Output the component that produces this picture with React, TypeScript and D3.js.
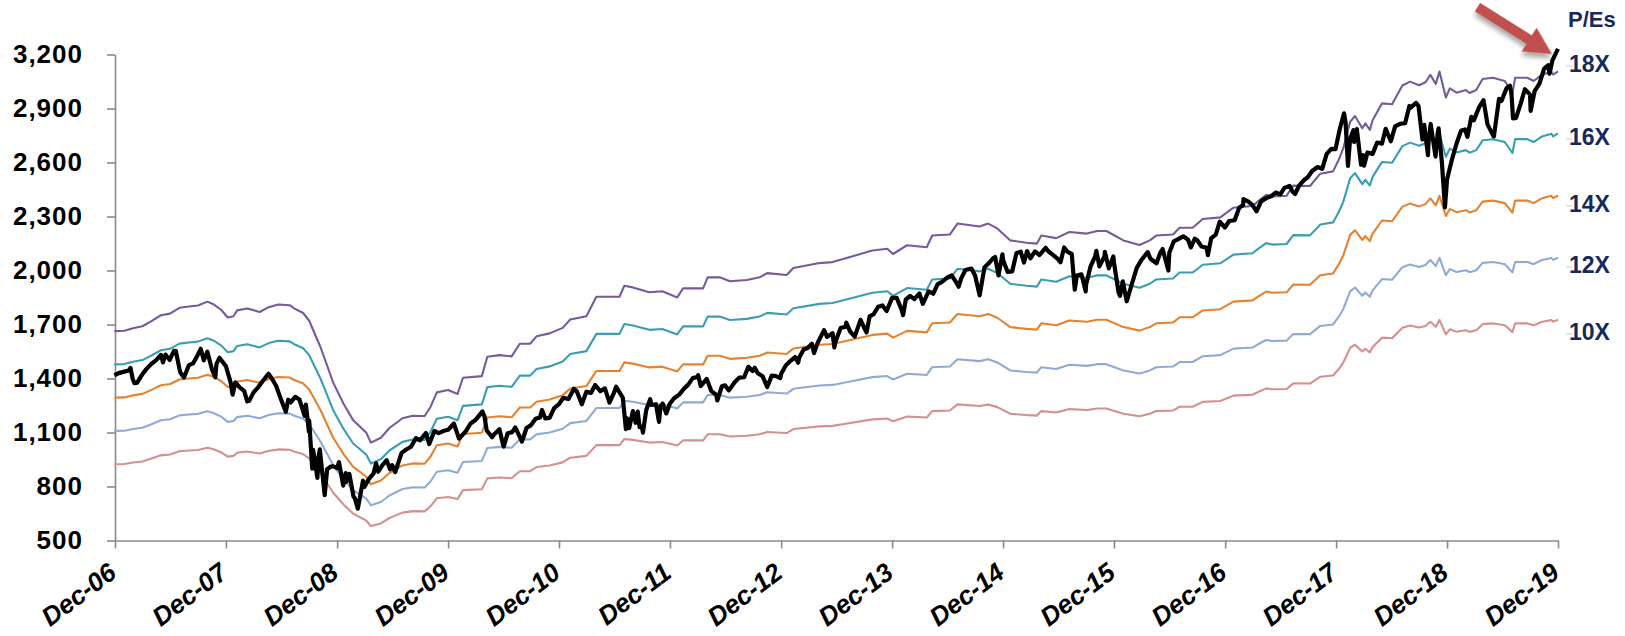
import React, { useEffect, useRef } from 'react';
import * as d3 from 'd3';

// S&P 500 level
const spx: [string, number][] = [
  ["2006-12-29", 1418], ["2007-01-12", 1430], ["2007-01-31", 1438], ["2007-02-14", 1444], ["2007-02-20", 1459],
  ["2007-02-27", 1399], ["2007-03-05", 1374], ["2007-03-14", 1377], ["2007-03-30", 1421], ["2007-04-13", 1452],
  ["2007-04-30", 1482], ["2007-05-15", 1501], ["2007-05-31", 1531], ["2007-06-07", 1490], ["2007-06-15", 1533],
  ["2007-06-29", 1503], ["2007-07-13", 1553], ["2007-07-19", 1553], ["2007-07-31", 1455], ["2007-08-03", 1433],
  ["2007-08-15", 1406], ["2007-08-31", 1474], ["2007-09-14", 1484], ["2007-09-28", 1527], ["2007-10-09", 1565],
  ["2007-10-19", 1501], ["2007-10-31", 1549], ["2007-11-15", 1451], ["2007-11-26", 1407], ["2007-11-30", 1481],
  ["2007-12-10", 1515], ["2007-12-31", 1468], ["2008-01-15", 1381], ["2008-01-22", 1310], ["2008-01-31", 1379],
  ["2008-02-15", 1349], ["2008-02-29", 1331], ["2008-03-10", 1273], ["2008-03-17", 1277], ["2008-03-31", 1323],
  ["2008-04-15", 1351], ["2008-04-30", 1386], ["2008-05-19", 1426], ["2008-05-30", 1400], ["2008-06-13", 1360],
  ["2008-06-30", 1280], ["2008-07-15", 1215], ["2008-07-23", 1282], ["2008-07-31", 1267], ["2008-08-15", 1298],
  ["2008-08-29", 1283], ["2008-09-15", 1193], ["2008-09-19", 1255], ["2008-09-29", 1106], ["2008-09-30", 1166],
  ["2008-10-10", 899], ["2008-10-13", 1003], ["2008-10-27", 848], ["2008-10-31", 969], ["2008-11-04", 1006],
  ["2008-11-20", 752], ["2008-11-28", 896], ["2008-12-08", 909], ["2008-12-16", 913], ["2008-12-31", 903],
  ["2009-01-06", 935], ["2009-01-20", 805], ["2009-01-28", 874], ["2009-01-30", 826], ["2009-02-09", 870],
  ["2009-02-23", 743], ["2009-02-27", 735], ["2009-03-09", 677], ["2009-03-26", 832], ["2009-03-31", 798],
  ["2009-04-14", 841], ["2009-04-30", 873], ["2009-05-08", 929], ["2009-05-15", 882], ["2009-05-29", 919],
  ["2009-06-12", 946], ["2009-06-23", 895], ["2009-06-30", 919], ["2009-07-10", 880], ["2009-07-31", 987],
  ["2009-08-14", 1004], ["2009-08-31", 1021], ["2009-09-16", 1068], ["2009-09-30", 1057], ["2009-10-19", 1097],
  ["2009-10-30", 1036], ["2009-11-16", 1109], ["2009-11-30", 1096], ["2009-12-15", 1108], ["2009-12-31", 1115],
  ["2010-01-19", 1150], ["2010-02-05", 1066], ["2010-02-26", 1104], ["2010-03-15", 1150], ["2010-03-31", 1169],
  ["2010-04-23", 1217], ["2010-04-30", 1187], ["2010-05-07", 1111], ["2010-05-25", 1074], ["2010-05-31", 1089],
  ["2010-06-18", 1118], ["2010-06-30", 1031], ["2010-07-02", 1022], ["2010-07-15", 1096], ["2010-07-30", 1102],
  ["2010-08-09", 1128], ["2010-08-27", 1065], ["2010-08-31", 1049], ["2010-09-15", 1125], ["2010-09-30", 1141],
  ["2010-10-15", 1176], ["2010-10-29", 1183], ["2010-11-05", 1225], ["2010-11-16", 1178], ["2010-11-30", 1181],
  ["2010-12-15", 1236], ["2010-12-31", 1258], ["2011-01-14", 1293], ["2011-01-31", 1286], ["2011-02-18", 1343],
  ["2011-02-28", 1327], ["2011-03-16", 1257], ["2011-03-31", 1326], ["2011-04-15", 1320], ["2011-04-29", 1364],
  ["2011-05-16", 1329], ["2011-05-31", 1345], ["2011-06-15", 1266], ["2011-06-30", 1321], ["2011-07-07", 1354],
  ["2011-07-29", 1292], ["2011-08-08", 1119], ["2011-08-12", 1179], ["2011-08-19", 1124], ["2011-08-31", 1219],
  ["2011-09-09", 1154], ["2011-09-16", 1216], ["2011-09-22", 1130], ["2011-09-30", 1131], ["2011-10-03", 1099],
  ["2011-10-14", 1225], ["2011-10-27", 1285], ["2011-10-31", 1253], ["2011-11-15", 1257], ["2011-11-25", 1159],
  ["2011-11-30", 1247], ["2011-12-07", 1261], ["2011-12-19", 1206], ["2011-12-30", 1258], ["2012-01-13", 1289],
  ["2012-01-31", 1312], ["2012-02-15", 1343], ["2012-02-29", 1366], ["2012-03-15", 1402], ["2012-03-30", 1408],
  ["2012-04-02", 1419], ["2012-04-10", 1358], ["2012-04-30", 1398], ["2012-05-15", 1330], ["2012-05-31", 1310],
  ["2012-06-04", 1278], ["2012-06-19", 1357], ["2012-06-29", 1362], ["2012-07-12", 1334], ["2012-07-31", 1379],
  ["2012-08-15", 1405], ["2012-08-31", 1407], ["2012-09-14", 1465], ["2012-09-28", 1441], ["2012-10-05", 1460],
  ["2012-10-15", 1429], ["2012-10-31", 1412], ["2012-11-15", 1353], ["2012-11-30", 1416], ["2012-12-14", 1413],
  ["2012-12-28", 1402], ["2012-12-31", 1426], ["2013-01-15", 1472], ["2013-01-31", 1498], ["2013-02-15", 1519],
  ["2013-02-25", 1488], ["2013-02-28", 1515], ["2013-03-15", 1561], ["2013-03-28", 1569], ["2013-04-11", 1593],
  ["2013-04-18", 1541], ["2013-04-30", 1598], ["2013-05-21", 1669], ["2013-05-31", 1631], ["2013-06-18", 1652],
  ["2013-06-24", 1573], ["2013-06-28", 1606], ["2013-07-15", 1682], ["2013-07-31", 1686], ["2013-08-02", 1710],
  ["2013-08-15", 1661], ["2013-08-30", 1633], ["2013-09-18", 1726], ["2013-09-30", 1682], ["2013-10-08", 1656],
  ["2013-10-18", 1745], ["2013-10-31", 1757], ["2013-11-15", 1798], ["2013-11-29", 1806], ["2013-12-13", 1775],
  ["2013-12-31", 1848], ["2014-01-15", 1848], ["2014-01-31", 1783], ["2014-02-05", 1752], ["2014-02-14", 1838],
  ["2014-02-28", 1859], ["2014-03-14", 1841], ["2014-03-31", 1872], ["2014-04-11", 1815], ["2014-04-30", 1884],
  ["2014-05-15", 1871], ["2014-05-30", 1924], ["2014-06-13", 1937], ["2014-06-30", 1960], ["2014-07-15", 1973],
  ["2014-07-31", 1931], ["2014-08-07", 1910], ["2014-08-15", 1955], ["2014-08-29", 2003], ["2014-09-18", 2011],
  ["2014-09-30", 1972], ["2014-10-15", 1862], ["2014-10-31", 2018], ["2014-11-14", 2040], ["2014-11-28", 2068],
  ["2014-12-05", 2075], ["2014-12-16", 1973], ["2014-12-29", 2090], ["2014-12-31", 2059], ["2015-01-15", 1992],
  ["2015-01-30", 1995], ["2015-02-13", 2096], ["2015-02-27", 2105], ["2015-03-10", 2044], ["2015-03-20", 2108],
  ["2015-03-31", 2068], ["2015-04-15", 2106], ["2015-04-30", 2086], ["2015-05-20", 2126], ["2015-05-29", 2107],
  ["2015-06-15", 2084], ["2015-06-30", 2063], ["2015-07-08", 2046], ["2015-07-20", 2128], ["2015-07-31", 2104],
  ["2015-08-14", 2092], ["2015-08-24", 1893], ["2015-08-31", 1972], ["2015-09-15", 1979], ["2015-09-29", 1884],
  ["2015-09-30", 1920], ["2015-10-15", 2023], ["2015-10-30", 2079], ["2015-11-03", 2109], ["2015-11-13", 2023],
  ["2015-11-30", 2080], ["2015-12-01", 2103], ["2015-12-14", 2012], ["2015-12-29", 2078], ["2015-12-31", 2044],
  ["2016-01-15", 1880], ["2016-01-20", 1859], ["2016-01-29", 1940], ["2016-02-11", 1829], ["2016-02-29", 1932],
  ["2016-03-15", 2015], ["2016-03-31", 2060], ["2016-04-20", 2102], ["2016-04-29", 2065], ["2016-05-19", 2040],
  ["2016-05-31", 2097], ["2016-06-08", 2119], ["2016-06-27", 2000], ["2016-06-30", 2099], ["2016-07-15", 2162],
  ["2016-07-29", 2174], ["2016-08-15", 2190], ["2016-08-31", 2171], ["2016-09-09", 2128], ["2016-09-22", 2177],
  ["2016-09-30", 2168], ["2016-10-14", 2133], ["2016-10-31", 2126], ["2016-11-04", 2085], ["2016-11-15", 2180],
  ["2016-11-30", 2199], ["2016-12-13", 2271], ["2016-12-30", 2239], ["2017-01-13", 2275], ["2017-01-31", 2279],
  ["2017-02-15", 2349], ["2017-02-28", 2364], ["2017-03-01", 2396], ["2017-03-15", 2385], ["2017-03-31", 2363],
  ["2017-04-13", 2329], ["2017-04-28", 2384], ["2017-05-15", 2402], ["2017-05-31", 2412], ["2017-06-15", 2433],
  ["2017-06-30", 2423], ["2017-07-14", 2459], ["2017-07-31", 2470], ["2017-08-10", 2438], ["2017-08-18", 2425],
  ["2017-08-31", 2472], ["2017-09-15", 2500], ["2017-09-29", 2519], ["2017-10-13", 2553], ["2017-10-31", 2575],
  ["2017-11-15", 2565], ["2017-11-30", 2648], ["2017-12-15", 2676], ["2017-12-29", 2674], ["2018-01-12", 2786],
  ["2018-01-26", 2873], ["2018-01-31", 2824], ["2018-02-08", 2581], ["2018-02-15", 2731], ["2018-02-26", 2780],
  ["2018-02-28", 2714], ["2018-03-09", 2786], ["2018-03-23", 2588], ["2018-03-29", 2641], ["2018-04-02", 2582],
  ["2018-04-13", 2656], ["2018-04-30", 2648], ["2018-05-15", 2711], ["2018-05-31", 2705], ["2018-06-12", 2787],
  ["2018-06-29", 2718], ["2018-07-13", 2801], ["2018-07-31", 2816], ["2018-08-15", 2818], ["2018-08-29", 2914],
  ["2018-08-31", 2902], ["2018-09-20", 2931], ["2018-09-28", 2914], ["2018-10-11", 2728], ["2018-10-17", 2809],
  ["2018-10-29", 2641], ["2018-10-31", 2712], ["2018-11-07", 2814], ["2018-11-23", 2633], ["2018-11-30", 2760],
  ["2018-12-03", 2790], ["2018-12-14", 2600], ["2018-12-24", 2351], ["2018-12-31", 2507], ["2019-01-15", 2610],
  ["2019-01-31", 2704], ["2019-02-15", 2776], ["2019-02-28", 2784], ["2019-03-08", 2743], ["2019-03-21", 2854],
  ["2019-03-29", 2834], ["2019-04-15", 2906], ["2019-04-30", 2946], ["2019-05-13", 2812], ["2019-05-31", 2752],
  ["2019-06-03", 2744], ["2019-06-20", 2954], ["2019-06-28", 2942], ["2019-07-15", 3014], ["2019-07-26", 3026],
  ["2019-07-31", 2980], ["2019-08-05", 2845], ["2019-08-15", 2848], ["2019-08-30", 2926], ["2019-09-13", 3007],
  ["2019-09-30", 2977], ["2019-10-02", 2887], ["2019-10-15", 2996], ["2019-10-31", 3038], ["2019-11-15", 3120],
  ["2019-11-29", 3141], ["2019-12-03", 3093], ["2019-12-13", 3169], ["2019-12-31", 3231],
];

// forward EPS behind the bands (band value = EPS x multiple)
const eps: [string, number][] = [
  ["2006-12-29", 92.4], ["2007-01-31", 92.5], ["2007-02-28", 93.3], ["2007-03-31", 93.9], ["2007-04-30", 95.5],
  ["2007-05-31", 97.3], ["2007-06-30", 97.8], ["2007-07-31", 99.6], ["2007-08-31", 100.0], ["2007-09-30", 100.3],
  ["2007-10-31", 101.5], ["2007-11-18", 100.8], ["2007-12-15", 99.0], ["2008-01-06", 96.6], ["2008-01-25", 97.0],
  ["2008-02-06", 98.8], ["2008-03-10", 99.4], ["2008-04-20", 98.3], ["2008-05-20", 99.8], ["2008-06-20", 100.6],
  ["2008-07-28", 100.4], ["2008-08-10", 99.5], ["2008-09-10", 98.0], ["2008-09-30", 95.6], ["2008-11-06", 87.5],
  ["2008-12-18", 76.5], ["2009-01-21", 70.0], ["2009-02-21", 65.0], ["2009-04-06", 61.0], ["2009-04-21", 58.0],
  ["2009-05-24", 59.5], ["2009-06-21", 62.5], ["2009-08-03", 65.5], ["2009-09-06", 66.3], ["2009-10-15", 66.2],
  ["2009-11-03", 69.0], ["2009-11-24", 73.5], ["2009-12-31", 74.2], ["2010-01-31", 73.0], ["2010-02-18", 78.0],
  ["2010-04-21", 78.5], ["2010-05-09", 84.5], ["2010-06-18", 85.0], ["2010-07-28", 84.6], ["2010-08-24", 88.5],
  ["2010-09-27", 88.5], ["2010-10-18", 90.8], ["2010-11-30", 91.7], ["2011-01-12", 93.4], ["2011-02-06", 96.0],
  ["2011-03-31", 97.0], ["2011-05-03", 103.0], ["2011-07-18", 103.0], ["2011-08-03", 106.4], ["2011-08-31", 105.9],
  ["2011-10-24", 104.4], ["2011-12-06", 104.7], ["2012-01-24", 102.8], ["2012-02-12", 105.6], ["2012-04-18", 105.6],
  ["2012-05-03", 109.0], ["2012-06-12", 109.0], ["2012-07-15", 107.8], ["2012-09-09", 108.2], ["2012-10-21", 109.0],
  ["2012-11-15", 110.3], ["2013-01-18", 109.7], ["2013-02-09", 111.9], ["2013-05-06", 113.4], ["2013-06-18", 113.7],
  ["2013-08-15", 115.3], ["2013-10-27", 117.3], ["2013-12-15", 117.8], ["2014-01-03", 116.2], ["2014-02-18", 118.9],
  ["2014-04-24", 118.3], ["2014-05-12", 121.9], ["2014-07-09", 122.2], ["2014-08-03", 125.6], ["2014-10-15", 124.7],
  ["2014-11-12", 125.6], ["2014-12-12", 124.1], ["2015-01-24", 120.4], ["2015-03-18", 119.7], ["2015-04-21", 119.4],
  ["2015-05-06", 121.9], ["2015-06-24", 121.1], ["2015-08-06", 123.0], ["2015-10-03", 122.5], ["2015-11-06", 123.3],
  ["2015-12-06", 123.3], ["2016-01-31", 120.4], ["2016-03-24", 119.0], ["2016-04-27", 120.4], ["2016-05-18", 121.9],
  ["2016-07-12", 122.2], ["2016-08-03", 124.3], ["2016-09-15", 124.3], ["2016-10-18", 127.0], ["2016-12-15", 127.5],
  ["2017-01-27", 130.5], ["2017-03-31", 131.0], ["2017-04-18", 132.5], ["2017-05-15", 134.5], ["2017-06-03", 134.0],
  ["2017-07-21", 134.2], ["2017-08-12", 137.3], ["2017-10-06", 137.2], ["2017-11-09", 141.0], ["2017-12-21", 141.7],
  ["2018-01-12", 146.0], ["2018-01-24", 149.0], ["2018-02-15", 157.0], ["2018-03-03", 158.8], ["2018-03-27", 155.0],
  ["2018-04-06", 156.5], ["2018-04-21", 154.5], ["2018-04-30", 157.5], ["2018-05-31", 162.7], ["2018-07-03", 162.4],
  ["2018-08-06", 168.2], ["2018-08-31", 169.4], ["2018-09-30", 168.3], ["2018-10-21", 169.2], ["2018-11-06", 171.5],
  ["2018-11-24", 168.7], ["2018-12-06", 172.5], ["2018-12-27", 164.5], ["2019-01-09", 167.3], ["2019-01-31", 166.0],
  ["2019-03-03", 166.8], ["2019-03-15", 165.9], ["2019-04-06", 166.8], ["2019-04-27", 170.2], ["2019-05-31", 170.6],
  ["2019-06-24", 170.0], ["2019-07-09", 169.6], ["2019-08-03", 165.8], ["2019-08-12", 170.6], ["2019-09-21", 170.6],
  ["2019-10-12", 169.6], ["2019-11-06", 171.4], ["2019-12-09", 172.5], ["2019-12-15", 171.6], ["2019-12-31", 172.6],
];

const multiples = [10, 12, 14, 16, 18];
const bandLabels = ["10X", "12X", "14X", "16X", "18X"];
const yTicks = [500, 800, 1100, 1400, 1700, 2000, 2300, 2600, 2900, 3200];
const tickYears = [2006, 2007, 2008, 2009, 2010, 2011, 2012, 2013, 2014, 2015, 2016, 2017, 2018, 2019];

const bandColors = ["#d4908e", "#8eaad6", "#e6822f", "#3a9db3", "#775a9c"];
const labelY = [340, 273, 212, 145, 72];

export default function App() {
  const ref = useRef<SVGSVGElement>(null);

  useEffect(() => {
    const svg = d3.select(ref.current);
    svg.selectAll("*").remove();

    const parse = d3.timeParse("%Y-%m-%d");
    const x = d3.scaleTime()
      .domain([new Date(2006, 11, 31), new Date(2019, 11, 31)])
      .range([115, 1558]);
    const y = d3.scaleLinear().domain([500, 3200]).range([540.5, 54.5]);

    const font = "'Liberation Sans', Arial, sans-serif";

    // y axis
    const gy = svg.append("g")
      .attr("transform", "translate(115,0)")
      .call(d3.axisLeft(y).tickValues(yTicks).tickSize(8).tickSizeOuter(0).tickPadding(24).tickFormat(d3.format(",")));
    gy.selectAll("path, line").attr("stroke", "#8a8a8a").attr("stroke-width", 1.6);
    gy.selectAll("text")
      .attr("font-family", font).attr("font-weight", "bold").attr("font-size", 26)
      .attr("letter-spacing", 1).attr("fill", "#000");

    // x axis
    const tickDates = tickYears.map(yr => new Date(yr, 11, 31));
    const gx = svg.append("g")
      .attr("transform", "translate(0,540.5)")
      .call(d3.axisBottom(x).tickValues(tickDates).tickSize(8).tickSizeOuter(0).tickFormat(() => ""));
    gx.selectAll("path, line").attr("stroke", "#8a8a8a").attr("stroke-width", 1.6);

    const fmt = d3.timeFormat("%b-%y");
    svg.append("g")
      .selectAll("text")
      .data(tickDates)
      .enter()
      .append("text")
      .attr("transform", d => `translate(${x(d) + 3},576) rotate(-37)`)
      .attr("text-anchor", "end")
      .attr("font-family", font).attr("font-weight", "bold").attr("font-style", "italic")
      .attr("font-size", 26)
      .text(d => fmt(d));

    // P/E bands
    const epsData = eps.map(([d, v]) => ({ date: parse(d) as Date, v }));
    multiples.forEach((m, i) => {
      const line = d3.line<{ date: Date; v: number }>()
        .x(d => x(d.date))
        .y(d => y(d.v * m));
      svg.append("path")
        .datum(epsData)
        .attr("fill", "none")
        .attr("stroke", bandColors[i])
        .attr("stroke-width", 2.1)
        .attr("stroke-linejoin", "round")
        .attr("d", line);
    });

    // S&P 500
    const spxData = spx.map(([d, v]) => ({ date: parse(d) as Date, v }));
    svg.append("path")
      .datum(spxData)
      .attr("fill", "none")
      .attr("stroke", "#000")
      .attr("stroke-width", 4.2)
      .attr("stroke-linejoin", "round")
      .attr("d", d3.line<{ date: Date; v: number }>().x(d => x(d.date)).y(d => y(d.v)));

    // right labels
    svg.append("g")
      .selectAll("line")
      .data(labelY)
      .enter()
      .append("line")
      .attr("x1", 1566).attr("x2", 1572)
      .attr("y1", d => d - 6).attr("y2", d => d - 6)
      .attr("stroke", "#dcdcdc").attr("stroke-width", 1.5);

    svg.append("text")
      .attr("x", 1568).attr("y", 27)
      .attr("font-family", font).attr("font-weight", "bold").attr("font-size", 22)
      .attr("fill", "#16295c")
      .text("P/Es");

    svg.append("g")
      .selectAll("text")
      .data(bandLabels)
      .enter()
      .append("text")
      .attr("x", 1569)
      .attr("y", (d, i) => labelY[i])
      .attr("font-family", font).attr("font-weight", "bold").attr("font-size", 23)
      .attr("fill", "#16295c")
      .text(d => d);

    // arrow
    const defs = svg.append("defs");
    const f = defs.append("filter").attr("id", "shadow").attr("x", "-30%").attr("y", "-30%").attr("width", "160%").attr("height", "160%");
    f.append("feDropShadow").attr("dx", 2).attr("dy", 4).attr("stdDeviation", 2.5)
      .attr("flood-color", "#000").attr("flood-opacity", 0.35);

    const tip = [1552, 54];
    const ang = Math.atan2(44, 70) * 180 / Math.PI;
    svg.append("path")
      .attr("transform", `translate(${tip[0]},${tip[1]}) rotate(${ang})`)
      .attr("d", "M0,0 L-27,-14 L-27,-5 L-88,-5 L-88,5 L-27,5 L-27,14 Z")
      .attr("fill", "#c0504d")
      .attr("filter", "url(#shadow)");
  }, []);

  return (
    <svg ref={ref} width={1625} height={636}
      style={{ position: 'absolute', left: 0, top: 0, background: '#fff' }} />
  );
}
